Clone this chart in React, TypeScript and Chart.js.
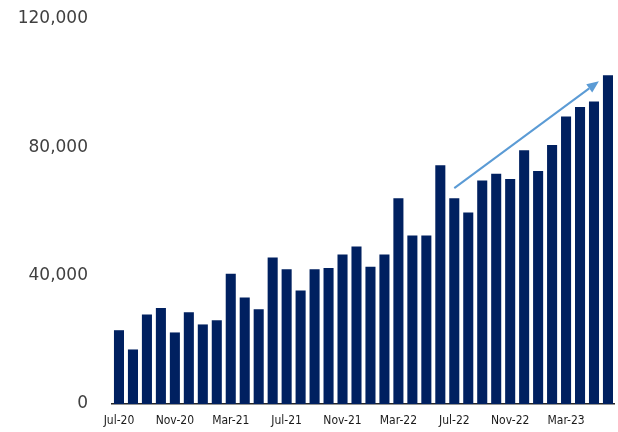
import React, { useEffect, useRef } from "react";
import { Chart, registerables } from "chart.js";

Chart.register(...registerables);

// Monthly totals, Jul-20 through Jun-23
const months = [
  "Jul-20", "Aug-20", "Sep-20", "Oct-20", "Nov-20", "Dec-20",
  "Jan-21", "Feb-21", "Mar-21", "Apr-21", "May-21", "Jun-21",
  "Jul-21", "Aug-21", "Sep-21", "Oct-21", "Nov-21", "Dec-21",
  "Jan-22", "Feb-22", "Mar-22", "Apr-22", "May-22", "Jun-22",
  "Jul-22", "Aug-22", "Sep-22", "Oct-22", "Nov-22", "Dec-22",
  "Jan-23", "Feb-23", "Mar-23", "Apr-23", "May-23", "Jun-23",
];

const values = [
  23000, 17000, 27900, 29900, 22300, 28600,
  24800, 26100, 40600, 33200, 29500, 45700,
  42000, 35400, 42000, 42400, 46600, 49100,
  42800, 46600, 64100, 52500, 52500, 74400,
  64100, 59700, 69700, 71800, 70100, 79100,
  72600, 80700, 89600, 92600, 94300, 102500,
];

// Y axis ticks
const yTicks = [0, 40000, 80000, 120000];

// Trend arrow, in category index / value terms
const arrowFrom = { index: 24, value: 67300 };
const arrowTo = { index: 34.35, value: 100600 };

const BAR_COLOR = "#002060";
const ARROW_COLOR = "#5b9bd5";

const trendArrow = {
  id: "trendArrow",
  afterDatasetsDraw(chart: any) {
    const { ctx, scales } = chart;
    const x = scales.x;
    const y = scales.y;
    const x0 = x.getPixelForValue(arrowFrom.index);
    const y0 = y.getPixelForValue(arrowFrom.value);
    const x1 = x.getPixelForValue(arrowTo.index);
    const y1 = y.getPixelForValue(arrowTo.value);
    const ang = Math.atan2(y1 - y0, x1 - x0);
    const headLen = 12;
    const headHalf = 5;
    const bx = x1 - headLen * Math.cos(ang);
    const by = y1 - headLen * Math.sin(ang);
    ctx.save();
    ctx.strokeStyle = ARROW_COLOR;
    ctx.fillStyle = ARROW_COLOR;
    ctx.lineWidth = 2;
    ctx.beginPath();
    ctx.moveTo(x0, y0);
    ctx.lineTo(bx, by);
    ctx.stroke();
    ctx.beginPath();
    ctx.moveTo(x1, y1);
    ctx.lineTo(bx + headHalf * Math.sin(ang), by - headHalf * Math.cos(ang));
    ctx.lineTo(bx - headHalf * Math.sin(ang), by + headHalf * Math.cos(ang));
    ctx.closePath();
    ctx.fill();
    ctx.restore();
  },
};

export default function App() {
  const canvasRef = useRef<HTMLCanvasElement | null>(null);

  useEffect(() => {
    if (!canvasRef.current) return;
    const chart = new Chart(canvasRef.current, {
      type: "bar",
      data: {
        labels: months,
        datasets: [
          {
            data: values,
            backgroundColor: BAR_COLOR,
            categoryPercentage: 1,
            barPercentage: 0.72,
          },
        ],
      },
      options: {
        responsive: false,
        animation: false,
        layout: { padding: { top: 19, right: 2, left: 0, bottom: 0 } },
        plugins: {
          legend: { display: false },
          tooltip: { enabled: false },
        },
        scales: {
          x: {
            grid: { display: false, drawTicks: false },
            border: { display: true, color: "#262626", width: 1.5 },
            afterFit(scale: any) {
              scale.height = 28;
            },
            ticks: {
              autoSkip: false,
              maxRotation: 0,
              minRotation: 0,
              padding: 10,
              color: "#1a1a1a",
              font: {
                family: "'DejaVu Sans Condensed', sans-serif",
                size: 12,
              },
              callback: (_v: any, i: number) => (i % 4 === 0 ? months[i] : ""),
            },
          },
          y: {
            min: 0,
            max: 120000,
            grid: { display: false, drawTicks: false },
            border: { display: false },
            afterFit(scale: any) {
              scale.width = 112;
              scale.paddingTop = 0;
              scale.paddingBottom = 0;
            },
            afterBuildTicks(scale: any) {
              scale.ticks = yTicks.map((v) => ({ value: v }));
            },
            ticks: {
              padding: 24,
              color: "#404040",
              font: { family: "'DejaVu Sans', sans-serif", size: 17 },
              callback: (v: any) => Number(v).toLocaleString("en-US"),
            },
          },
        },
      },
      plugins: [trendArrow],
    });
    return () => chart.destroy();
  }, []);

  return (
    <div style={{ position: "absolute", left: 0, top: 0, width: 618, height: 432, background: "#fff" }}>
      <canvas ref={canvasRef} width={618} height={432} style={{ display: "block" }} />
    </div>
  );
}
